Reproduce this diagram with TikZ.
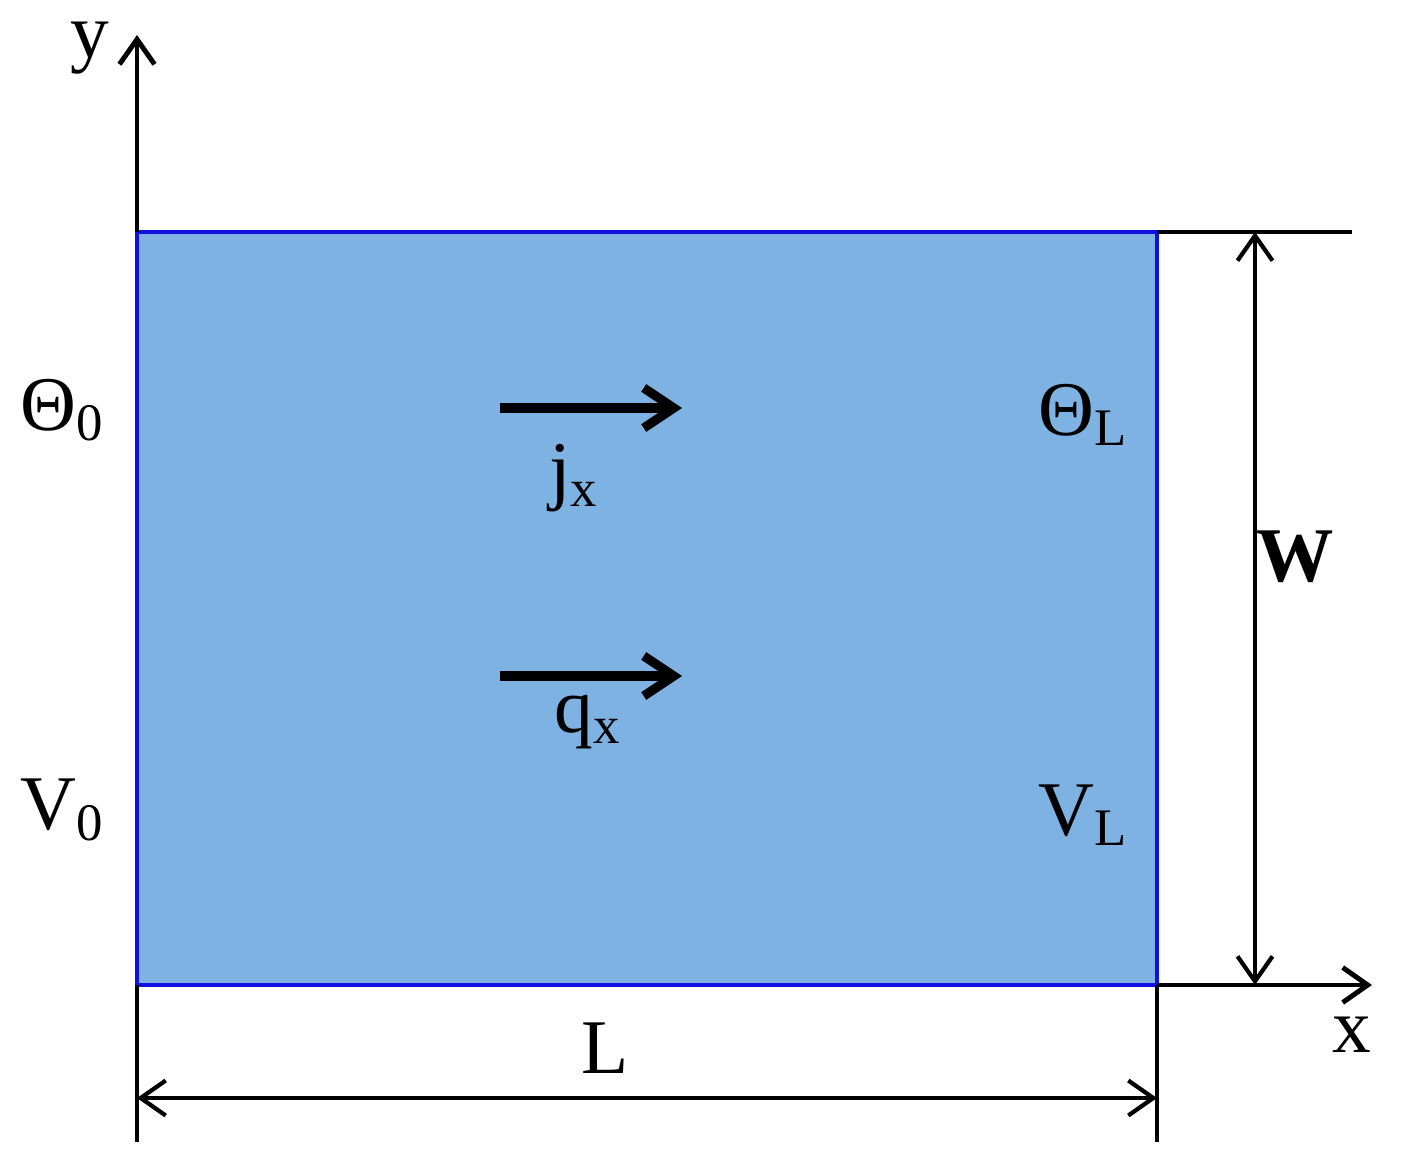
\documentclass[tikz,border=0pt]{standalone}
\usepackage{fontspec}
\setmainfont{Liberation Serif}
\usetikzlibrary{arrows.meta}
\definecolor{fillb}{HTML}{7EB2E2}
\definecolor{edgeb}{HTML}{1010E0}
\newcommand{\sbs}[1]{\raisebox{-0.3ex}{\fontsize{15}{18}\selectfont #1}}
\begin{document}
\begin{tikzpicture}[x=0.01cm,y=-0.01cm,
  lbl/.style={font=\fontsize{22}{26}\selectfont, inner sep=0},
  dim/.style={line width=1.2pt, {Straight Barb[length=2.5mm,width=3.5mm]}-{Straight Barb[length=2.5mm,width=3.5mm]}},
  ax/.style={line width=1.4pt, -{Straight Barb[length=2.5mm,width=3.5mm]}},
  flow/.style={line width=2.6pt, -{Straight Barb[length=3mm,width=4mm]}}]
\useasboundingbox (0,0) rectangle (1418,1170);
\draw[fill=fillb, draw=edgeb, line width=1.4pt] (137,232) rectangle (1157,985);
\coordinate (o) at (137,985);
\coordinate (ytop) at (137,35);
\coordinate (xr) at (1157,985);
\coordinate (xend) at (1372,985);
\draw[ax] (137,232) -- (ytop);
\draw[ax] (xr) -- (xend);
\draw[line width=1.2pt] (1157,232) -- (1352,232);
\draw[dim] (1255,232) -- (1255,985);
\draw[line width=1.2pt] (137,985) -- (137,1142);
\draw[line width=1.2pt] (1157,985) -- (1157,1142);
\draw[dim] (137,1098) -- (1157,1098);
\node[lbl] (yl) at (90,48) {y};
\node[lbl] (xl) at (1352,1035) {x};
\node[lbl] (W) at (1295,557) {\textbf{W}};
\node[lbl] (L) at (605,1048) {L};
\node[lbl] (t0) at (62,410) {Θ\sbs{0}};
\node[lbl] (tL) at (1083,415) {Θ\sbs{L}};
\node[lbl] (v0) at (62,810) {V\sbs{0}};
\node[lbl] (vL) at (1083,815) {V\sbs{L}};
\coordinate (j1) at (500,408); \coordinate (j2) at (682,408);
\coordinate (q1) at (500,676); \coordinate (q2) at (682,676);
\draw[flow] (j1) -- (j2);
\draw[flow] (q1) -- (q2);
\node[lbl] (jx) at (573,478) {j\sbs{x}};
\node[lbl] (qx) at (587,722) {q\sbs{x}};
\end{tikzpicture}
\end{document}
